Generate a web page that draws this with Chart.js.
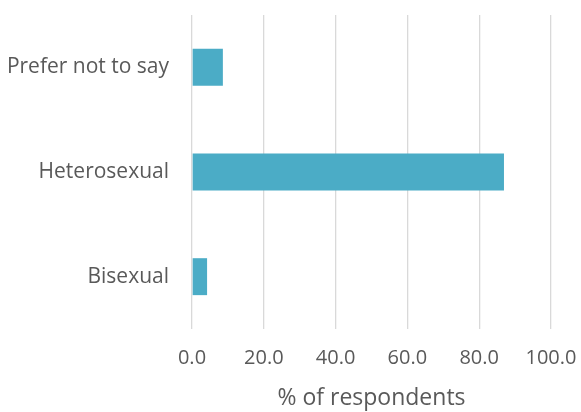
<!DOCTYPE html>
<html>
<head>
<meta charset="utf-8">
<script src="https://cdn.jsdelivr.net/npm/chart.js@4/dist/chart.umd.min.js"></script>
<style>
  html, body { margin: 0; padding: 0; background: #fff; }
  #wrap { width: 581px; height: 412px; }
</style>
</head>
<body>
<div id="wrap"><canvas id="orientationChart"></canvas></div>
<script>
const categories = ['Prefer not to say', 'Heterosexual', 'Bisexual'];
const percentValues = [8.6, 86.9, 4.2];
const xTicks = [0, 20, 40, 60, 80, 100];

const textGrey = '#595959';
const fontFamily = "'Open Sans', 'Noto Sans', sans-serif";

new Chart(document.getElementById('orientationChart'), {
    type: 'bar',
    data: {
        labels: categories,
        datasets: [{
            data: percentValues,
            backgroundColor: '#4bacc6',
            barPercentage: 0.353,
            categoryPercentage: 1
        }]
    },
    options: {
        indexAxis: 'y',
        responsive: true,
        maintainAspectRatio: false,
        animation: false,
        layout: { padding: { top: 15, right: 30, bottom: 0, left: 0 } },
        plugins: {
            legend: { display: false },
            tooltip: { enabled: false }
        },
        scales: {
            x: {
                min: xTicks[0],
                max: xTicks[xTicks.length - 1],
                afterBuildTicks: scale => { scale.ticks = xTicks.map(v => ({ value: v })); },
                // plot bottom sits at 329, the rest belongs to ticks and title
                afterFit: scale => {
                    scale.height = 83;
                    scale.paddingLeft = 0;
                    scale.paddingRight = 0;
                },
                grid: { color: '#d9d9d9', lineWidth: 1.3, drawTicks: false },
                border: { display: false },
                ticks: {
                    color: textGrey,
                    padding: 17,
                    maxRotation: 0,
                    font: { family: fontFamily, size: 20 },
                    callback: v => Number(v).toFixed(1)
                },
                title: {
                    display: true,
                    text: '% of respondents',
                    color: textGrey,
                    padding: { top: 0, bottom: 0 },
                    font: { family: fontFamily, size: 23 }
                }
            },
            y: {
                grid: { display: false, drawTicks: false },
                border: { display: false },
                afterFit: scale => {
                    scale.width = 192;
                    scale.paddingTop = 0;
                    scale.paddingBottom = 0;
                },
                ticks: {
                    color: textGrey,
                    padding: 23,
                    font: { family: fontFamily, size: 21 }
                }
            }
        }
    }
});
</script>
</body>
</html>
